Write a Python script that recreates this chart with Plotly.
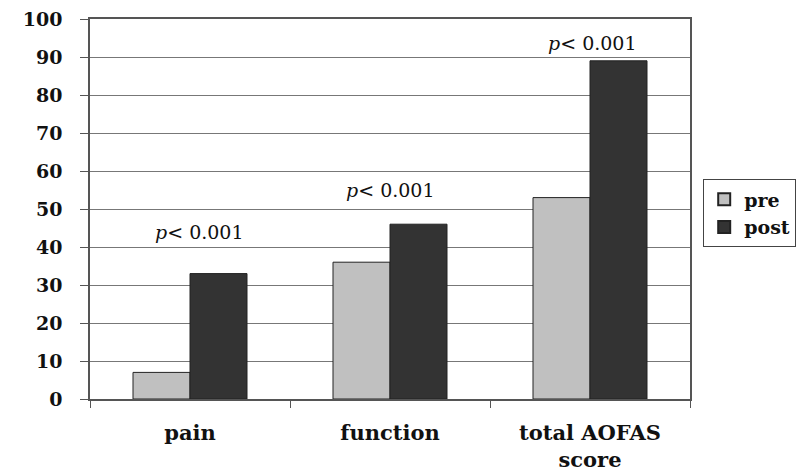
import plotly.graph_objects as go

categories = ["pain", "function", "total AOFAS<br>score"]
pre_values = [7, 36, 53]
post_values = [33, 46, 89]
p_labels = ["<i>p</i>< 0.001", "<i>p</i>< 0.001", "<i>p</i>< 0.001"]
y_ticks = list(range(0, 101, 10))

SERIF = "DejaVu Serif"

fig = go.Figure()
fig.add_trace(go.Bar(name="pre", x=categories, y=pre_values,
                     marker=dict(color="#c0c0c0", line=dict(color="#222222", width=1))))
fig.add_trace(go.Bar(name="post", x=categories, y=post_values,
                     marker=dict(color="#333333", line=dict(color="#222222", width=1))))

label_y = [44, 55, 93.7]
label_shift = [9, 0, 2]
for cat, txt, yy, sh in zip(categories, p_labels, label_y, label_shift):
    fig.add_annotation(x=cat, y=yy, text=txt, showarrow=False, xshift=sh,
                       font=dict(family=SERIF, size=19, color="#111111"))

fig.update_layout(
    width=802, height=471,
    margin=dict(l=90, r=112, t=19, b=72, autoexpand=False),
    paper_bgcolor="white", plot_bgcolor="white",
    barmode="group", bargap=0.43, bargroupgap=0,
    font=dict(family=SERIF, color="#111111"),
    legend=dict(x=1.022, y=0.578, xanchor="left", yanchor="top",
                bordercolor="#444444", borderwidth=1, bgcolor="white",
                font=dict(family=SERIF, size=19, color="#111111", weight="bold"),
                itemsizing="constant", tracegroupgap=0),
    xaxis=dict(showline=True, mirror=True, linecolor="#555555", linewidth=1.5, automargin=False,
               ticks="outside", tickson="boundaries", ticklen=7, tickcolor="#555555",
               tickfont=dict(family=SERIF, size=21, color="#111111", weight="bold"),
               ticklabelstandoff=14),
    yaxis=dict(range=[0, 100], tickvals=y_ticks, showline=True, mirror=True,
               linecolor="#555555", linewidth=1.5, automargin=False,
               ticks="outside", ticklen=8, tickcolor="#555555",
               showgrid=True, gridcolor="#777777", gridwidth=1, zeroline=False,
               tickfont=dict(family=SERIF, size=19, color="#111111", weight="bold"),
               ticklabelstandoff=14),
)

# remove the default 8px page margin so the figure sits at the window's top-left corner
fig.write_html("out.html", config={"displayModeBar": False},
               post_script="document.body.style.margin='0';")
